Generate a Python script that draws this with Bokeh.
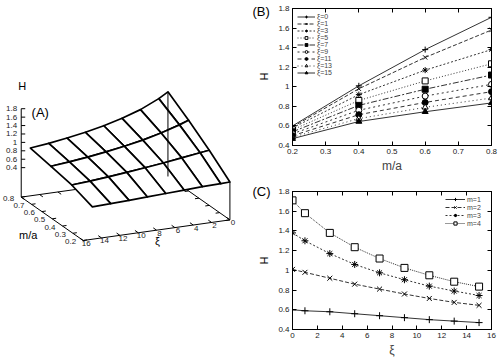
import numpy as np
from bokeh.plotting import figure
from bokeh.layouts import row, column
from bokeh.models import Range1d, Legend, LegendItem, LinearAxis, FixedTicker
from bokeh.core.properties import value
from bokeh.embed import file_html
from bokeh.resources import INLINE

# ---------------- data ----------------
ma = [0.2, 0.4, 0.6, 0.8]
xi = [0, 1, 3, 5, 7, 9, 11, 13, 15]
H_m1 = [0.60, 0.59, 0.58, 0.56, 0.54, 0.52, 0.50, 0.485, 0.47]
H_m2 = [1.01, 0.98, 0.92, 0.86, 0.81, 0.76, 0.715, 0.675, 0.645]
H_m3 = [1.38, 1.30, 1.17, 1.06, 0.975, 0.905, 0.84, 0.79, 0.745]
H_m4 = [1.71, 1.58, 1.38, 1.235, 1.12, 1.025, 0.95, 0.885, 0.835]
m_labels = ["m=1", "m=2", "m=3", "m=4"]
xi_labels = ["ξ=0", "ξ=1", "ξ=3", "ξ=5", "ξ=7", "ξ=9", "ξ=11", "ξ=13", "ξ=15"]
h_ticks = [0.4, 0.6, 0.8, 1.0, 1.2, 1.4, 1.6, 1.8]
ma_ticks = [0.2, 0.3, 0.4, 0.5, 0.6, 0.7, 0.8]
xi_ticks = [0, 2, 4, 6, 8, 10, 12, 14, 16]

H = np.array([H_m1, H_m2, H_m3, H_m4])
FONT = "Liberation Sans"
LC = "#333333"

WA = 272  # width of the left canvas (3D panel + side labels of B and C)

# ---------------- panel A: 3D wireframe ----------------
XI_MAX, MA_MIN, ZBASE, ZMAX = 16.0, 0.2, -0.3, 1.8
OX, OY = 82.7, 240.0
AX, AY = 9.17, -1.29      # per unit of (16 - xi)
BX, BY = -10.33, -7.23    # per 0.1 of m/a
CZ = 42.1                 # per unit of H

def proj(x, m, z):
    u = XI_MAX - np.asarray(x, float)
    v = (np.asarray(m, float) - MA_MIN) / 0.1
    sx = OX + u * AX + v * BX
    sy = OY + u * AY + v * BY - (np.asarray(z, float) - ZBASE) * CZ
    return sx, sy

pA = figure(width=WA, height=360, x_range=Range1d(0, WA), y_range=Range1d(360, 0),
            output_backend="svg", toolbar_location=None, min_border=0,
            x_axis_location=None, y_axis_location=None)
pA.grid.visible = False
pA.outline_line_color = None

# base box edges
corners = [(16, 0.8), (0, 0.8), (0, 0.2), (16, 0.2), (16, 0.8)]
bx, by = proj([c[0] for c in corners], [c[1] for c in corners], [ZBASE] * 5)
pA.line(list(bx), list(by), line_color="black", line_width=1)

TL = 4.0
xt = np.array(xi_ticks, float)
mv = np.array([BX, BY]) / np.hypot(BX, BY)
fx, fy = proj(xt, np.full_like(xt, 0.2), np.full_like(xt, ZBASE))
kx, ky = proj(xt, np.full_like(xt, 0.8), np.full_like(xt, ZBASE))
pA.segment(fx, fy, fx + mv[0] * TL, fy + mv[1] * TL, line_color="black", line_width=1)
pA.segment(kx, ky, kx - mv[0] * TL, ky - mv[1] * TL, line_color="black", line_width=1)
pA.text(fx + 3, fy + 3, text=[f"{v:g}" for v in xi_ticks], text_font=value(FONT),
        text_font_size="8px", text_align="center", text_baseline="middle", text_color="#222")
mt = np.array(ma_ticks, float)
av = np.array([AX, AY]) / np.hypot(AX, AY)
lx, ly = proj(np.full_like(mt, 16), mt, np.full_like(mt, ZBASE))
rx, ry = proj(np.full_like(mt, 0), mt, np.full_like(mt, ZBASE))
pA.segment(lx, ly, lx + av[0] * TL, ly + av[1] * TL, line_color="black", line_width=1)
pA.segment(rx, ry, rx - av[0] * TL, ry - av[1] * TL, line_color="black", line_width=1)
pA.text(lx - 7, ly + 1, text=[f"{v:g}" for v in ma_ticks], text_font=value(FONT),
        text_font_size="8px", text_align="right", text_baseline="middle", text_color="#222")

# surface quads, painter's order (far first)
quads = []
for i in range(len(ma) - 1):
    for j in range(len(xi) - 1):
        qx = [xi[j], xi[j + 1], xi[j + 1], xi[j]]
        qm = [ma[i], ma[i], ma[i + 1], ma[i + 1]]
        qz = [H[i, j], H[i, j + 1], H[i + 1, j + 1], H[i + 1, j]]
        sx, sy = proj(qx, qm, qz)
        _, dy = proj(np.mean(qx), np.mean(qm), ZBASE)
        quads.append((float(dy), list(sx), list(sy)))
quads.sort(key=lambda q: q[0])
pA.patches([q[1] for q in quads], [q[2] for q in quads], fill_color="white",
           line_color="black", line_width=1.7, line_join="round")

# verticals and H axis
zt = np.array(h_ticks, float)
zx, zy = proj(np.full_like(zt, 16), np.full_like(zt, 0.8), zt)
ax0, ay0 = proj(16, 0.8, ZBASE)
ax1, ay1 = proj(16, 0.8, ZMAX)
pA.segment([ax0], [ay0], [ax1], [ay1], line_color="black", line_width=1)
pA.segment(zx, zy, zx + TL, zy, line_color="black", line_width=1)
pA.text(zx - 4, zy, text=[f"{v:g}" for v in h_ticks], text_font=value(FONT),
        text_font_size="8px", text_align="right", text_baseline="middle", text_color="#222")
vx0, vy0 = proj([0, 0], [0.8, 0.2], [ZBASE, ZBASE])
vx1, vy1 = proj([0, 0], [0.8, 0.2], [H[3, 0], H[0, 0]])
pA.segment(vx0, vy0, vx1, vy1, line_color="black", line_width=1)

hx, hy = proj(16, 0.8, ZMAX)
pA.text([float(hx) + 1], [float(hy) - 23], text=["H"], text_font=value(FONT), text_font_size="11px",
        text_align="center", text_baseline="middle")
pA.text([float(hx) + 19], [float(hy) + 4], text=["(A)"], text_font=value(FONT), text_font_size="13px",
        text_align="center", text_baseline="middle")
mlx, mly = proj(16, 0.5, ZBASE)
pA.text([float(mlx) - 24], [float(mly) + 16], text=["m/a"], text_font=value(FONT), text_font_size="11px",
        text_align="center", text_baseline="middle")
xlx, xly = proj(8, 0.2, ZBASE)
pA.text([float(xlx) + 1], [float(xly) + 11], text=["ξ"], text_font=value(FONT), text_font_size="11px",
        text_align="center", text_baseline="middle")

# panel tags and y-axis titles of B and C (they sit in the left margin of those panels)
pA.text([252, 252], [3, 183], text=["(B)", "(C)"], text_font=value(FONT), text_font_size="13px",
        text_align="left", text_baseline="top")
pA.text([263, 263], [76, 260], text=["H", "H"], text_font=value(FONT), text_font_size="11px",
        text_align="center", text_baseline="middle", angle=np.pi / 2)

# ---------------- helper for 2D panels ----------------
def style(p, xticks, yticks):
    p.grid.visible = False
    p.outline_line_color = "black"
    for ax, tk in ((p.below[0], xticks), (p.left[0], yticks)):
        ax.ticker = FixedTicker(ticks=tk)
        ax.major_tick_in = 4
        ax.major_tick_out = 0
        ax.minor_tick_line_color = None
        ax.major_label_text_font = FONT
        ax.major_label_text_font_size = "8px"
        ax.major_label_text_color = "#222"
        ax.axis_label_text_font = FONT
        ax.axis_label_text_font_style = "normal"
        ax.axis_label_text_font_size = "12px"
        ax.major_label_standoff = 3
        ax.axis_label_standoff = 2
    p.left[0].major_label_overrides = {1: "1"}
    for loc, tk in (("right", yticks), ("above", xticks)):
        a = LinearAxis(ticker=FixedTicker(ticks=tk), major_tick_in=4, major_tick_out=0,
                       minor_tick_line_color=None,
                       major_label_overrides={t: "" for t in tk},
                       major_label_standoff=0, axis_label_standoff=0)
        p.add_layout(a, loc)

dashes = ["solid", "4 2", "2 2", "1 2", "6 2 2 2", "2 3", "4 3", "1 3", "solid"]
markers = ["cross", "x", "asterisk", "square", "square", "circle", "circle", "triangle", "triangle"]
filled = [False, False, False, False, True, False, True, False, True]

# ---------------- panel B ----------------
pB = figure(width=500 - WA, height=180, x_range=Range1d(0.2, 0.8), y_range=Range1d(0.4, 1.8),
            output_backend="svg", toolbar_location=None, x_axis_label="m/a",
            min_border_left=291 - WA, min_border_right=9, min_border_top=8, min_border_bottom=35)
style(pB, ma_ticks, h_ticks)
itemsB = []
for k, lab in enumerate(xi_labels):
    col = H[:, k]
    r1 = pB.line(ma, list(col), line_color=LC, line_width=1, line_dash=dashes[k])
    r2 = pB.scatter(ma, list(col), marker=markers[k], size=6, line_color="black",
                    fill_color="black" if filled[k] else "white", line_width=1)
    itemsB.append(LegendItem(label=lab, renderers=[r1, r2]))
legB = Legend(items=itemsB, location="top_left", label_text_font=FONT, label_text_font_size="7px",
              glyph_height=7, glyph_width=18, label_height=7, spacing=0, padding=1, margin=4,
              border_line_alpha=0, background_fill_alpha=0, label_standoff=2)
pB.add_layout(legB)

# ---------------- panel C ----------------
pC = figure(width=500 - WA, height=180, x_range=Range1d(0, 16), y_range=Range1d(0.4, 1.8),
            output_backend="svg", toolbar_location=None, x_axis_label="ξ",
            min_border_left=292 - WA, min_border_right=6, min_border_top=11, min_border_bottom=31)
style(pC, xi_ticks, h_ticks)
dC = ["solid", "4 2", "2 2", "1 1"]
mC = ["cross", "x", "asterisk", "square"]
itemsC = []
for i, lab in enumerate(m_labels):
    r1 = pC.line(xi, list(H[i]), line_color=LC, line_width=1, line_dash=dC[i])
    r2 = pC.scatter(xi, list(H[i]), marker=mC[i], size=7, line_color="black",
                    fill_color="white", line_width=1)
    itemsC.append(LegendItem(label=lab, renderers=[r1, r2]))
legC = Legend(items=itemsC, location="top_right", label_text_font=FONT, label_text_font_size="7px",
              glyph_height=8, glyph_width=20, label_height=8, spacing=0, padding=1, margin=3,
              border_line_alpha=0, background_fill_alpha=0, label_standoff=2)
pC.add_layout(legC)

layout = row(pA, column(pB, pC))
open("out.html", "w").write(file_html(layout, INLINE))
